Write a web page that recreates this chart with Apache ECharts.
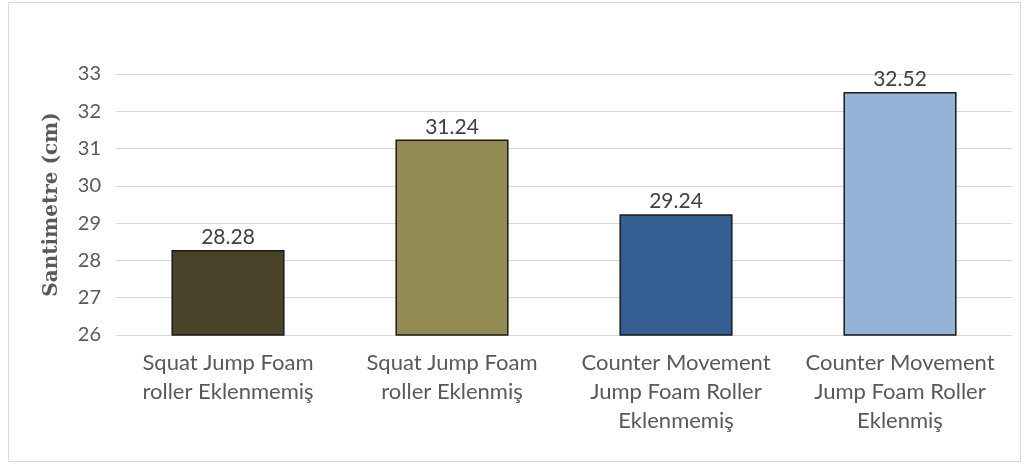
<!DOCTYPE html>
<html><head><meta charset="utf-8">
<script src="https://cdn.jsdelivr.net/npm/echarts@6/dist/echarts.min.js"></script>
<style>html,body{margin:0;padding:0;background:#fff}#c{width:1029px;height:464px}</style>
</head><body><div id="c"></div>
<script>
const categories = ["Squat Jump Foam\nroller Eklenmemiş", "Squat Jump Foam\nroller Eklenmiş", "Counter Movement\nJump Foam Roller\nEklenmemiş", "Counter Movement\nJump Foam Roller\nEklenmiş"];
const values = [28.28, 31.24, 29.24, 32.52];
const barColors = ["#4a432a", "#948a54", "#355e92", "#95b3d7"];
const yAxisName = "Santimetre (cm)";
const yMin = 26, yMax = 33, yStep = 1;

const chart = echarts.init(document.getElementById('c'));
chart.setOption({
  animation: false,
  backgroundColor: '#fff',
  graphic: [{type:'rect', shape:{x:8.5,y:2.5,width:1012,height:459}, style:{fill:'none', stroke:'#d9d9d9', lineWidth:1}, silent:true}],
  grid: {left:116, right:17, top:74, bottom:129, containLabel:false},
  xAxis: {
    type:'category', data:categories,
    axisLine:{show:true, lineStyle:{color:'#d9d9d9', width:1}},
    axisTick:{show:false},
    axisLabel:{color:'#595959', fontSize:22, fontFamily:'Lato', lineHeight:29, margin:13, interval:0}
  },
  yAxis: {
    type:'value', min:yMin, max:yMax, interval:yStep,
    name:yAxisName, nameLocation:'middle', nameGap:54,
    nameTextStyle:{color:'#595959', fontSize:20, fontWeight:'bold', fontFamily:'DejaVu Serif'},
    axisLine:{show:false}, axisTick:{show:false},
    axisLabel:{color:'#595959', fontSize:20, fontFamily:'Lato', margin:15},
    splitLine:{lineStyle:{color:'#d9d9d9', width:1}}
  },
  series: [{
    type:'bar', barWidth:'50.5%',
    data: values.map((v,i)=>({value:v, itemStyle:{color:barColors[i]}})),
    itemStyle:{borderColor:'#1a1a1a', borderWidth:1.5},
    label:{show:true, position:'top', color:'#404040', fontSize:21, fontFamily:'Lato', distance:2, formatter:p=>p.value.toFixed(2)}
  }]
});
</script></body></html>
